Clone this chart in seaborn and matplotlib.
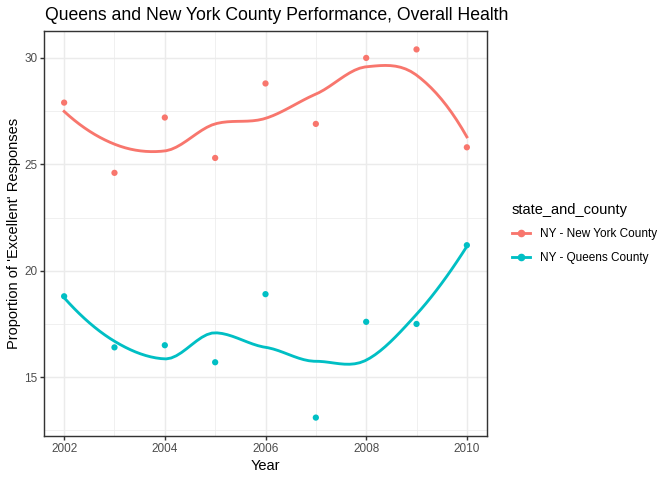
import numpy as np
import pandas as pd
import matplotlib
matplotlib.use("Agg")
import matplotlib.pyplot as plt
import seaborn as sns
from matplotlib.lines import Line2D
from matplotlib.ticker import MultipleLocator

YEARS = [2002, 2003, 2004, 2005, 2006, 2007, 2008, 2009, 2010]
NEW_YORK = [27.9, 24.6, 27.2, 25.3, 28.8, 26.9, 30.0, 30.4, 25.8]
QUEENS = [18.8, 16.4, 16.5, 15.7, 18.9, 13.1, 17.6, 17.5, 21.2]
COUNTIES = ["NY - New York County", "NY - Queens County"]
COLORS = ["#F8766D", "#00BFC4"]

TITLE = "Queens and New York County Performance, Overall Health"
X_TITLE = "Year"
Y_TITLE = "Proportion of 'Excellent' Responses"
LEGEND_TITLE = "state_and_county"


def local_fit(x, y, x0, span=0.75):
    # weighted local quadratic (tricube), value and slope at x0
    n = len(x)
    q = int(np.floor(n * span))
    d = np.abs(x - x0)
    rho = np.sort(d)[q - 1]
    u = d / rho
    w = np.where(u < 1, (1 - u ** 3) ** 3, 0.0)
    X = np.column_stack([np.ones(n), x - x0, (x - x0) ** 2])
    sw = np.sqrt(w)
    beta = np.linalg.lstsq(X * sw[:, None], y * sw, rcond=None)[0]
    return beta[0], beta[1]


def loess_curve(x, y, n_out=80):
    # loess like R's default surface: fits at kd-tree vertices + cubic hermite
    x = np.asarray(x, float)
    y = np.asarray(y, float)
    margin = 0.005 * (x.max() - x.min())
    verts = np.concatenate([[x.min() - margin], np.unique(x), [x.max() + margin]])
    fits = np.array([local_fit(x, y, v) for v in verts])
    grid = np.linspace(x.min(), x.max(), n_out)
    out = []
    for g in grid:
        i = np.clip(np.searchsorted(verts, g) - 1, 0, len(verts) - 2)
        x0, x1 = verts[i], verts[i + 1]
        h = x1 - x0
        t = (g - x0) / h
        phi0 = (1 - t) ** 2 * (1 + 2 * t)
        phi1 = t ** 2 * (3 - 2 * t)
        psi0 = t * (1 - t) ** 2
        psi1 = -t ** 2 * (1 - t)
        out.append(phi0 * fits[i, 0] + phi1 * fits[i + 1, 0]
                   + (psi0 * fits[i, 1] + psi1 * fits[i + 1, 1]) * h)
    return grid, np.array(out)


points = pd.DataFrame({
    "Year": YEARS * 2,
    "value": NEW_YORK + QUEENS,
    "state_and_county": [COUNTIES[0]] * len(YEARS) + [COUNTIES[1]] * len(YEARS),
})

smooth_parts = []
for name, vals in zip(COUNTIES, [NEW_YORK, QUEENS]):
    gx, gy = loess_curve(YEARS, vals)
    smooth_parts.append(pd.DataFrame({"Year": gx, "value": gy, "state_and_county": name}))
smooth = pd.concat(smooth_parts, ignore_index=True)

plt.rcParams["font.family"] = ["Liberation Sans", "DejaVu Sans"]
palette = dict(zip(COUNTIES, COLORS))

fig = plt.figure(figsize=(7, 5), dpi=96)
ax = fig.add_axes([44 / 672, 1 - 436 / 480, (487 - 44) / 672, (436 - 31) / 480])

sns.lineplot(data=smooth, x="Year", y="value", hue="state_and_county", palette=palette,
             linewidth=2.13, ax=ax, legend=False, zorder=3)
sns.scatterplot(data=points, x="Year", y="value", hue="state_and_county", palette=palette,
                s=22, linewidth=0, ax=ax, legend=False, zorder=4)

# ggplot-ish expansion (5% of range)
all_y = np.concatenate([points["value"].values, smooth["value"].values])
lo, hi = all_y.min(), all_y.max()
pad = (hi - lo) * 0.05
ax.set_ylim(lo - pad, hi + pad)
ax.set_xlim(YEARS[0] - 0.4, YEARS[-1] + 0.4)

ax.xaxis.set_major_locator(MultipleLocator(2))
ax.xaxis.set_minor_locator(MultipleLocator(1))
ax.yaxis.set_major_locator(MultipleLocator(5))
ax.yaxis.set_minor_locator(MultipleLocator(2.5))
ax.grid(which="major", color="#EBEBEB", linewidth=1.07)
ax.grid(which="minor", color="#EBEBEB", linewidth=0.53)
ax.set_axisbelow(True)

for sp in ax.spines.values():
    sp.set_color("#333333")
    sp.set_linewidth(1.07)
ax.tick_params(which="major", direction="out", length=2.75, width=1.07, color="#333333",
               labelcolor="#4D4D4D", labelsize=8.8, pad=2.2)
ax.tick_params(which="minor", length=0)

ax.set_xlabel(X_TITLE, fontsize=11, labelpad=3)
ax.set_ylabel(Y_TITLE, fontsize=11, labelpad=2.5)

# title aligned with the panel's left edge, like ggplot
fig.text(45 / 672, 1 - 19.5 / 480, TITLE, fontsize=13.2, ha="left", va="baseline")

handles = [Line2D([0], [0], color=c, linewidth=2.13, marker="o", markersize=4.7) for c in COLORS]
fig.legend(handles, COUNTIES, title=LEGEND_TITLE, loc="upper left",
           bbox_to_anchor=(501 / 672, 1 - 192 / 480), frameon=False,
           fontsize=8.8, title_fontsize=11, handlelength=1.6, handletextpad=0.8,
           labelspacing=1.0, alignment="left")

fig.savefig("out.png", dpi=96)
